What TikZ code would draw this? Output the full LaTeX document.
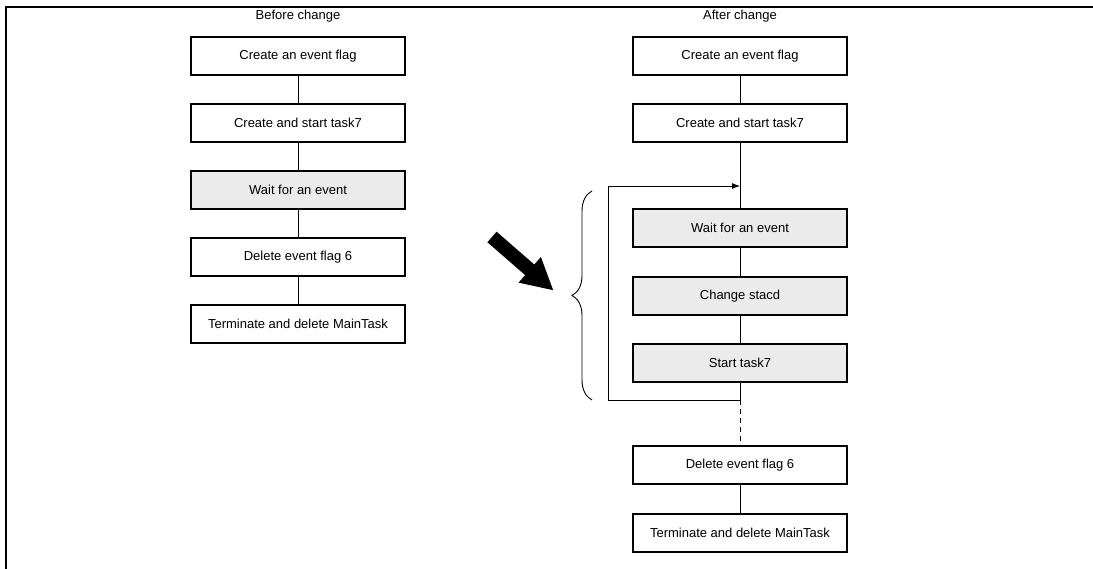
\documentclass[tikz,border=0pt]{standalone}
\usepackage{fontspec}
\setmainfont{Liberation Sans}
\usetikzlibrary{arrows.meta,decorations.pathreplacing,calc}
\begin{document}
\begin{tikzpicture}[x=1pt,y=-1pt,
  every node/.style={font=\fontsize{13}{15}\selectfont},
  stepbox/.style={draw=black,line width=2pt,minimum width=214pt,minimum height=38pt,inner sep=0pt,fill=white},
  graybox/.style={stepbox,fill=black!8},
  link/.style={line width=0.9pt},
  heading/.style={inner sep=0pt}]
\useasboundingbox (0,0) rectangle (1093,569);

% frame: only the top and left edges are drawn
\draw[line width=2pt] (1093,7) -- (6,7) -- (6,569);

% ---- before change ----
\node[heading] (hb) at (298,16) {Before change};
\node[stepbox]  (b1) at (298,56)  {Create an event flag};
\node[stepbox]  (b2) at (298,123) {Create and start task7};
\node[graybox]  (b3) at (298,190) {Wait for an event};
\node[stepbox]  (b4) at (298,257) {Delete event flag 6};
\node[stepbox]  (b5) at (298,324) {Terminate and delete MainTask};
\draw[link] (b1) -- (b2);
\draw[link] (b2) -- (b3);
\draw[link] (b3) -- (b4);
\draw[link] (b4) -- (b5);

% ---- after change ----
\node[heading] (ha) at (740,16) {After change};
\node[stepbox]  (r1) at (740,56)  {Create an event flag};
\node[stepbox]  (r2) at (740,123) {Create and start task7};
\node[graybox]  (r3) at (740,228) {Wait for an event};
\node[graybox]  (r4) at (740,296) {Change stacd};
\node[graybox]  (r5) at (740,363) {Start task7};
\node[stepbox]  (r6) at (740,465) {Delete event flag 6};
\node[stepbox]  (r7) at (740,533) {Terminate and delete MainTask};

\coordinate (looptop) at (740,186);
\coordinate (loopbot) at (740,400);
\coordinate (loopleft) at (608,400);

\draw[link] (r1) -- (r2);
\draw[link] (r2) -- (r3);
\draw[link] (r3) -- (r4);
\draw[link] (r4) -- (r5);
\draw[link] (r5) -- (loopbot);
\draw[link,dashed,dash pattern=on 5pt off 4pt] (loopbot) -- (r6);
\draw[link] (r6) -- (r7);

% repeat loop back to the wait step
\draw[link,-{Latex[length=8pt,width=6pt]}] (loopbot) -- (loopleft) |- (looptop);

% brace grouping the repeated steps
\draw[line width=0.9pt,decorate,decoration={brace,amplitude=20pt}] (592,400) -- (592,191);

% big arrow from the old flow to the new one
\begin{scope}[shift={(492,237)},rotate=-41]
  \fill[black] (0,7) -- (50,7) -- (50,17) -- (81,0) -- (50,-17) -- (50,-7) -- (0,-7) -- cycle;
\end{scope}
\end{tikzpicture}
\end{document}
